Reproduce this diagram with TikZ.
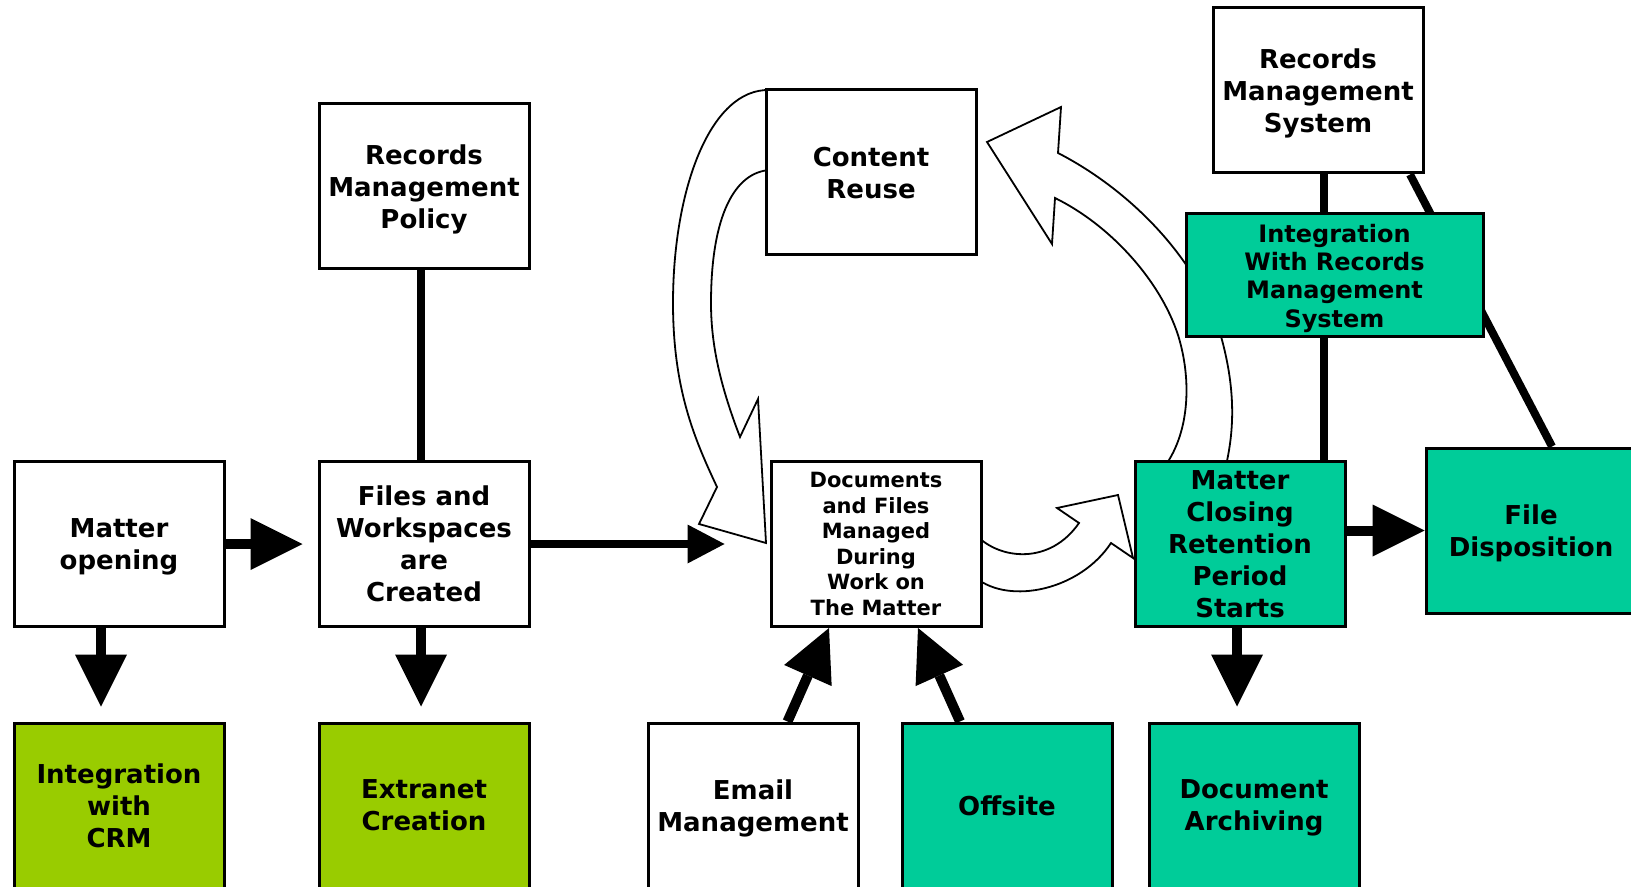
\documentclass[tikz,border=0pt]{standalone}
\usepackage{fontspec}
\setmainfont{DejaVu Sans}
\usetikzlibrary{arrows.meta,backgrounds}
\definecolor{limegreen}{HTML}{99CC00}
\definecolor{tealgreen}{HTML}{00CC99}
\begin{document}
\begin{tikzpicture}[x=0.5pt,y=-0.5pt,
  box/.style={draw, line width=1.5pt, fill=white, minimum width=105pt, minimum height=82.5pt,
    align=center, inner sep=0pt, text depth=0pt, font=\bfseries\fontsize{13}{16}\selectfont},
  limebox/.style={box, fill=limegreen},
  tealbox/.style={box, fill=tealgreen},
  link/.style={line width=4pt},
  conn/.style={line width=5pt, -{Triangle[length=26pt,width=26pt,line width=0pt]}},
  smallconn/.style={line width=4pt, -{Triangle[length=18.5pt,width=19.5pt,line width=0pt]}},
  bigarrow/.style={draw, fill=white, line width=0.9pt, line join=miter}
]
\useasboundingbox (0,0) rectangle (1631,887);

% nodes
\node[box] (rmp) at (424,186.5) {Records\\Management\\Policy};
\node[box, text depth=-1pt] (cr)  at (871,172.5) {Content\\Reuse};
\node[box] (rms) at (1318,90.5) {Records\\Management\\System};
\node[tealbox, minimum width=148.5pt, minimum height=61.5pt,
      font=\bfseries\fontsize{12}{14.2}\selectfont, text depth=-1pt] (irms) at (1334.5,275.5)
      {Integration\\With Records\\Management\\System};
\node[box] (mo)  at (119,544) {Matter\\opening};
\node[box] (fw)  at (424,544) {Files and\\Workspaces\\are\\Created};
\node[box, font=\bfseries\fontsize{10.5}{12.75}\selectfont, text depth=-1.5pt] (doc) at (876,544)
      {Documents\\and Files\\Managed\\During\\Work on\\The Matter};
\node[tealbox, text depth=-1.5pt] (mc)  at (1240,544) {Matter\\Closing\\Retention\\Period\\Starts};
\node[tealbox] (fd)  at (1531,530.5) {File\\Disposition};
\node[limebox] (crm) at (119,805.5) {Integration\\with\\CRM};
\node[limebox] (ext) at (424,805.5) {Extranet\\Creation};
\node[box] (em)  at (753,805.5) {Email\\Management};
\node[tealbox] (off) at (1007,805.5) {Offsite};
\node[tealbox] (arc) at (1254,805.5) {Document\\Archiving};

\begin{scope}[on background layer]
  % curved block arrow: Content Reuse -> Documents
  \draw[bigarrow] (770,90) .. controls (710,88) and (673,190) .. (673,303)
    .. controls (673,390) and (695,440) .. (717,487)
    -- (699,524) -- (766,543) -- (758,399) -- (740,437)
    .. controls (718,380) and (711,340) .. (711,303)
    .. controls (711,215) and (735,172) .. (770,170)
    -- cycle;
  % curved block arrow: Matter Closing -> Content Reuse
  \draw[bigarrow] (1162,470) .. controls (1190,435) and (1192,380) .. (1178,335)
    .. controls (1160,280) and (1110,225) .. (1055,198)
    -- (1052,244) -- (987,142) -- (1061,107) -- (1058,153)
    .. controls (1130,190) and (1200,260) .. (1222,340)
    .. controls (1238,400) and (1232,440) .. (1225,470)
    -- cycle;
  % small curved block arrow: Documents -> Matter Closing
  \draw[bigarrow] (976,535) .. controls (1000,560) and (1050,565) .. (1079,523)
    -- (1057,508) -- (1118,495) -- (1133,558) -- (1111,543)
    .. controls (1080,590) and (1010,605) .. (976,578)
    -- cycle;
  % plain links
  \draw[link] ([xshift=-1.5pt]rmp.south) -- ([xshift=-1.5pt]fw.north);
  \draw[link] ([xshift=3pt]rms.south) -- ([xshift=3pt]rms.south |- mc.north);
  \draw[link] ([xshift=46pt]rms.south) -- ([xshift=10.5pt]fd.north);
\end{scope}

% black arrows
\draw[conn, shorten >=7.5pt] (mo.east) -- (fw.west);
\draw[conn, shorten >=7.5pt] ([xshift=-9pt]mo.south) -- ([xshift=-9pt]crm.north);
\draw[conn, shorten >=7.5pt] ([xshift=-1.5pt]fw.south) -- ([xshift=-1.5pt]ext.north);
\draw[smallconn, shorten >=22.5pt] (fw.east) -- (doc.west);
\draw[conn] (mc.east |- fd.west) -- (fd.west);
\draw[conn, shorten >=7.5pt] ([xshift=-1.5pt]mc.south) -- ([xshift=-1.5pt]mc.south |- arc.north);
\draw[conn] ([xshift=17.25pt]em.north) -- ([xshift=-23.5pt]doc.south);
\draw[conn] ([xshift=-23.5pt]off.north) -- ([xshift=21pt]doc.south);
\end{tikzpicture}
\end{document}
